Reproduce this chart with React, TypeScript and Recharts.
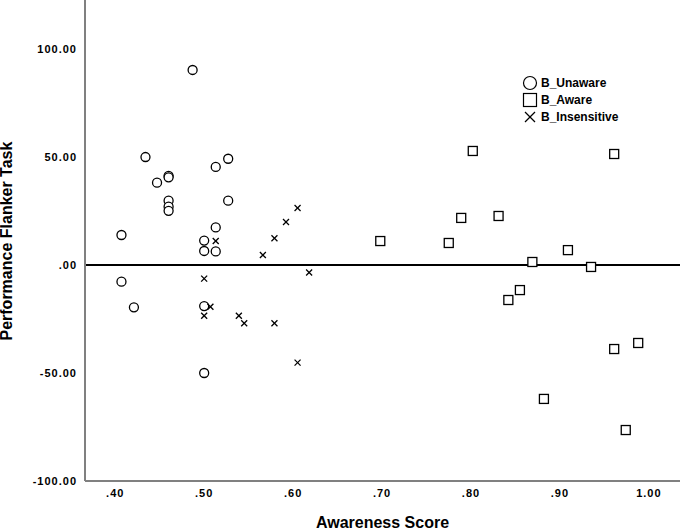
import React from 'react';
import { ScatterChart, Scatter, XAxis, YAxis, ReferenceLine } from 'recharts';

const unawareX = [.487,.434,.527,.513,.460,.460,.447,.460,.460,.460,.527,.513,.407,.500,.500,.513,.407,.421,.500,.500];
const unawareY = [90.3,50,49.2,45.4,41.3,40.6,38.1,29.8,27,25.1,29.8,17.4,13.9,11.3,6.5,6.3,-7.7,-19.6,-19,-50];
const awareX = [.698,.775,.789,.802,.831,.869,.842,.855,.909,.935,.961,.961,.988,.882,.974];
const awareY = [11.1,10.2,21.8,52.8,22.7,1.4,-16.2,-11.6,6.9,-0.9,51.4,-38.9,-36.1,-62,-76.4];
const insensX = [.605,.592,.579,.566,.513,.618,.500,.507,.500,.539,.545,.579,.605];
const insensY = [26.4,19.9,12.4,4.6,11.1,-3.5,-6.3,-19.3,-23.5,-23.5,-27,-27,-45.2];
const xTicks = [.4,.5,.6,.7,.8,.9,1.0];
const yTicks = [-100,-50,0,50,100];
const seriesNames = ['B_Unaware', 'B_Aware', 'B_Insensitive'];

const zip = (xs: number[], ys: number[]) => xs.map((x, i) => ({ x, y: ys[i] }));

const Circle = (p: any) => <circle cx={p.cx} cy={p.cy} r={4.5} fill="white" stroke="black" strokeWidth={1.3} />;
const Square = (p: any) => <rect x={p.cx - 4.5} y={p.cy - 4.5} width={9} height={9} fill="white" stroke="black" strokeWidth={1.3} />;
const Cross = (p: any) => (
  <g stroke="black" strokeWidth={1.3}>
    <line x1={p.cx - 3} y1={p.cy - 3} x2={p.cx + 3} y2={p.cy + 3} />
    <line x1={p.cx - 3} y1={p.cy + 3} x2={p.cx + 3} y2={p.cy - 3} />
  </g>
);

const fmt = (v: number) => {
  const s = Math.abs(v).toFixed(2).replace(/^0/, '');
  return (v < 0 ? '-' : '') + s;
};

const icons = [
  <circle cx={8} cy={8} r={6.5} fill="white" stroke="black" strokeWidth={1.2} />,
  <rect x={1.5} y={1.5} width={13} height={13} fill="white" stroke="black" strokeWidth={1.2} />,
  <g stroke="black" strokeWidth={1.2}><line x1={3} y1={3} x2={13} y2={13} /><line x1={3} y1={13} x2={13} y2={3} /></g>,
];

const LegendBox = () => (
  <div style={{ position: 'absolute', left: 522, top: 74, fontFamily: 'Arial, Liberation Sans, sans-serif', fontWeight: 'bold', fontSize: 12 }}>
    {seriesNames.map((n, i) => (
      <div key={n} style={{ display: 'flex', alignItems: 'center', height: 17 }}>
        <svg width={16} height={16} style={{ marginRight: 3 }}>{icons[i]}</svg>
        <span>{n}</span>
      </div>
    ))}
  </div>
);

export default function App() {
  return (
    <div style={{ position: 'absolute', left: 0, top: 0, width: 680, height: 532, background: 'white' }}>
      <ScatterChart width={680} height={532} margin={{ top: 0, right: 0, left: 0, bottom: 0 }}>
        <XAxis type="number" dataKey="x" domain={[0.366, 1.035]} ticks={xTicks} tickFormatter={fmt}
          height={51} tickLine={false} axisLine={{ stroke: '#808080', strokeWidth: 2 }}
          tick={{ fill: 'black', fontSize: 11, fontWeight: 'bold', fontFamily: 'Arial', letterSpacing: 1 }}
          allowDataOverflow
          label={{ value: 'Awareness Score', position: 'insideBottom', offset: 0, dy: -4, fill: 'black', fontSize: 16, fontWeight: 'bold', fontFamily: 'Arial' }} />
        <YAxis type="number" dataKey="y" domain={[-100, 122.7]} ticks={yTicks} tickFormatter={fmt}
          width={85} tickLine={false} axisLine={{ stroke: '#808080', strokeWidth: 2 }}
          tick={{ fill: 'black', fontSize: 11, fontWeight: 'bold', fontFamily: 'Arial', letterSpacing: 1 }}
          allowDataOverflow
          label={{ value: 'Performance Flanker Task', angle: -90, position: 'insideLeft', offset: 6, dy: 100, fill: 'black', fontSize: 16, fontWeight: 'bold', fontFamily: 'Arial' }} />
        <ReferenceLine y={0} stroke="black" strokeWidth={2} />
        <Scatter name={seriesNames[0]} data={zip(unawareX, unawareY)} shape={Circle} isAnimationActive={false} />
        <Scatter name={seriesNames[1]} data={zip(awareX, awareY)} shape={Square} isAnimationActive={false} />
        <Scatter name={seriesNames[2]} data={zip(insensX, insensY)} shape={Cross} isAnimationActive={false} />
      </ScatterChart>
      <LegendBox />
    </div>
  );
}
